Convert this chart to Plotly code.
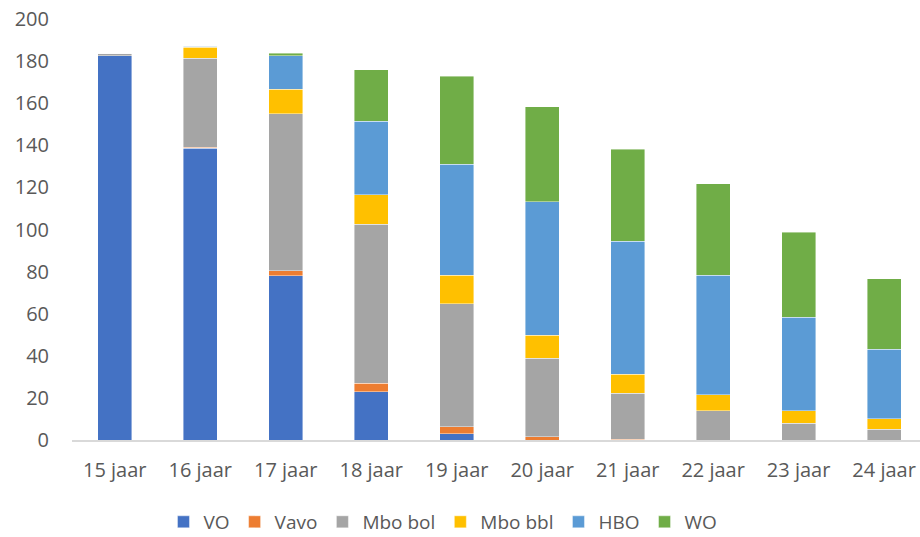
import plotly.graph_objects as go

categories = ["15 jaar", "16 jaar", "17 jaar", "18 jaar", "19 jaar",
              "20 jaar", "21 jaar", "22 jaar", "23 jaar", "24 jaar"]
vo      = [182.5, 138.5, 78, 23, 3, 0, 0, 0, 0, 0]
vavo    = [0, 0.6, 2.4, 4, 3.3, 1.5, 0.3, 0, 0, 0]
mbo_bol = [1.2, 42.2, 74.6, 75.5, 58.5, 37.3, 22, 14, 8, 5]
mbo_bbl = [0, 5.3, 11.7, 14, 13.4, 11, 9, 7.5, 6, 5]
hbo     = [0, 0.4, 15.9, 35, 52.8, 63.3, 63.2, 56.8, 44.2, 33]
wo      = [0, 0, 1.2, 24.5, 41.8, 45.2, 43.7, 43.4, 40.4, 33.5]

series = [
    ("VO", vo, "#4472C4"),
    ("Vavo", vavo, "#ED7D31"),
    ("Mbo bol", mbo_bol, "#A5A5A5"),
    ("Mbo bbl", mbo_bbl, "#FFC000"),
    ("HBO", hbo, "#5B9BD5"),
    ("WO", wo, "#70AD47"),
]

fig = go.Figure()
for name, vals, col in series:
    fig.add_trace(go.Bar(
        x=categories, y=vals, name=name,
        marker=dict(color=col, line=dict(color="rgba(255,255,255,0.6)", width=0.7)),
    ))

font_family = "Open Sans, Liberation Sans, sans-serif"
fig.update_layout(
    barmode="stack",
    bargap=0.6,
    width=920, height=537,
    margin=dict(l=72, r=0, t=19, b=97, autoexpand=False),
    plot_bgcolor="white", paper_bgcolor="white",
    font=dict(family=font_family, size=20, color="#595959"),
    showlegend=True,
    legend=dict(orientation="h", xref="container", yref="container",
                x=0.4815, xanchor="center", y=0.028, yanchor="middle",
                font=dict(size=19, color="#595959"), traceorder="normal",
                itemwidth=30),
    xaxis=dict(range=[-0.5, 9.42], showline=True, linecolor="#D9D9D9", linewidth=1.5,
               ticks="", showgrid=False, ticklabelstandoff=11),
    yaxis=dict(range=[0, 200], dtick=20, showgrid=False, zeroline=False,
               showline=False, ticks="", ticklabelstandoff=22),
)

fig.write_html("out.html", config={"displayModeBar": False},
               post_script="document.body.style.margin='0px';")
